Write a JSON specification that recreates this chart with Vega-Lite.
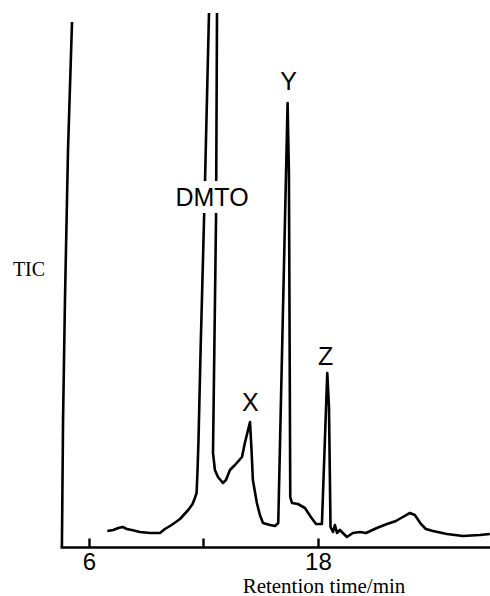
{
  "$schema": "https://vega.github.io/schema/vega-lite/v6.json",
  "width": 430,
  "height": 534,
  "autosize": "none",
  "padding": {"left": 60, "top": 13, "right": 0, "bottom": 49},
  "background": "white",
  "config": {"view": {"stroke": null}},
  "datasets": {
    "trace": [
      {"series": "solvent", "i": 1, "t": 5.11, "v": 525},
      {"series": "solvent", "i": 2, "t": 4.90, "v": 397},
      {"series": "solvent", "i": 3, "t": 4.74, "v": 247},
      {"series": "solvent", "i": 4, "t": 4.64, "v": 127},
      {"series": "solvent", "i": 5, "t": 4.58, "v": 0},
      {"series": "main", "i": 1, "t": 6.96, "v": 16},
      {"series": "main", "i": 2, "t": 7.27, "v": 17},
      {"series": "main", "i": 3, "t": 7.54, "v": 19},
      {"series": "main", "i": 4, "t": 7.77, "v": 20},
      {"series": "main", "i": 5, "t": 7.98, "v": 18},
      {"series": "main", "i": 6, "t": 8.24, "v": 17},
      {"series": "main", "i": 7, "t": 8.67, "v": 15},
      {"series": "main", "i": 8, "t": 9.20, "v": 14},
      {"series": "main", "i": 9, "t": 9.72, "v": 14},
      {"series": "main", "i": 10, "t": 9.98, "v": 18},
      {"series": "main", "i": 11, "t": 10.33, "v": 22},
      {"series": "main", "i": 12, "t": 10.77, "v": 28},
      {"series": "main", "i": 13, "t": 11.20, "v": 37},
      {"series": "main", "i": 14, "t": 11.43, "v": 43},
      {"series": "main", "i": 15, "t": 11.55, "v": 49},
      {"series": "main", "i": 16, "t": 11.64, "v": 54},
      {"series": "main", "i": 17, "t": 11.69, "v": 77},
      {"series": "main", "i": 18, "t": 11.74, "v": 107},
      {"series": "main", "i": 19, "t": 11.85, "v": 197},
      {"series": "main", "i": 20, "t": 12.08, "v": 364},
      {"series": "main", "i": 21, "t": 12.29, "v": 534},
      {"series": "main", "i": 22, "t": 12.30, "v": 557},
      {"series": "main", "i": 23, "t": 12.73, "v": 557},
      {"series": "main", "i": 24, "t": 12.71, "v": 533},
      {"series": "main", "i": 25, "t": 12.66, "v": 330},
      {"series": "main", "i": 26, "t": 12.50, "v": 94},
      {"series": "main", "i": 27, "t": 12.60, "v": 77},
      {"series": "main", "i": 28, "t": 12.76, "v": 70},
      {"series": "main", "i": 29, "t": 13.02, "v": 64},
      {"series": "main", "i": 30, "t": 13.18, "v": 67},
      {"series": "main", "i": 31, "t": 13.39, "v": 77},
      {"series": "main", "i": 32, "t": 13.65, "v": 82},
      {"series": "main", "i": 33, "t": 14.02, "v": 90},
      {"series": "main", "i": 34, "t": 14.17, "v": 104},
      {"series": "main", "i": 35, "t": 14.44, "v": 125},
      {"series": "main", "i": 36, "t": 14.52, "v": 97},
      {"series": "main", "i": 37, "t": 14.59, "v": 67},
      {"series": "main", "i": 38, "t": 14.80, "v": 44},
      {"series": "main", "i": 39, "t": 14.96, "v": 32},
      {"series": "main", "i": 40, "t": 15.12, "v": 24},
      {"series": "main", "i": 41, "t": 15.49, "v": 22},
      {"series": "main", "i": 42, "t": 15.75, "v": 21},
      {"series": "main", "i": 43, "t": 15.92, "v": 24},
      {"series": "main", "i": 44, "t": 16.41, "v": 444},
      {"series": "main", "i": 45, "t": 16.48, "v": 374},
      {"series": "main", "i": 46, "t": 16.55, "v": 50},
      {"series": "main", "i": 47, "t": 16.64, "v": 44},
      {"series": "main", "i": 48, "t": 16.95, "v": 43},
      {"series": "main", "i": 49, "t": 17.32, "v": 39},
      {"series": "main", "i": 50, "t": 17.63, "v": 30},
      {"series": "main", "i": 51, "t": 17.90, "v": 23},
      {"series": "main", "i": 52, "t": 18.21, "v": 23},
      {"series": "main", "i": 53, "t": 18.49, "v": 174},
      {"series": "main", "i": 54, "t": 18.58, "v": 140},
      {"series": "main", "i": 55, "t": 18.66, "v": 20},
      {"series": "main", "i": 56, "t": 18.79, "v": 15},
      {"series": "main", "i": 57, "t": 18.89, "v": 22},
      {"series": "main", "i": 58, "t": 19.00, "v": 14},
      {"series": "main", "i": 59, "t": 19.15, "v": 17},
      {"series": "main", "i": 60, "t": 19.52, "v": 10},
      {"series": "main", "i": 61, "t": 19.83, "v": 14},
      {"series": "main", "i": 62, "t": 20.20, "v": 15},
      {"series": "main", "i": 63, "t": 20.52, "v": 14},
      {"series": "main", "i": 64, "t": 21.09, "v": 19},
      {"series": "main", "i": 65, "t": 21.62, "v": 23},
      {"series": "main", "i": 66, "t": 22.09, "v": 26},
      {"series": "main", "i": 67, "t": 22.45, "v": 30},
      {"series": "main", "i": 68, "t": 22.82, "v": 34},
      {"series": "main", "i": 69, "t": 23.08, "v": 32},
      {"series": "main", "i": 70, "t": 23.40, "v": 23},
      {"series": "main", "i": 71, "t": 23.66, "v": 18},
      {"series": "main", "i": 72, "t": 24.03, "v": 16},
      {"series": "main", "i": 73, "t": 24.76, "v": 13},
      {"series": "main", "i": 74, "t": 25.60, "v": 11},
      {"series": "main", "i": 75, "t": 26.49, "v": 12},
      {"series": "main", "i": 76, "t": 27.01, "v": 13}
    ],
    "labels": [
      {"label": "DMTO", "t": 12.45, "v": 349},
      {"label": "X", "t": 14.46, "v": 144},
      {"label": "Y", "t": 16.46, "v": 465},
      {"label": "Z", "t": 18.40, "v": 190}
    ]
  },
  "layer": [
    {
      "data": {"name": "trace"},
      "mark": {"type": "line", "stroke": "black", "strokeWidth": 2.6, "clip": true, "strokeJoin": "round"},
      "encoding": {
        "x": {
          "field": "t", "type": "quantitative",
          "scale": {"domain": [4.48, 27.02], "nice": false, "zero": false},
          "axis": {
            "values": [6, 12, 18],
            "labelExpr": "datum.value == 12 ? '' : datum.label",
            "grid": false,
            "tickSize": -9, "tickWidth": 2.4, "tickColor": "black",
            "domainColor": "black", "domainWidth": 2.4,
            "labelFont": "Liberation Sans", "labelFontSize": 24, "labelColor": "black",
            "labelPadding": 12, "labelBaseline": "top",
            "title": "Retention time/min",
            "titleFont": "Liberation Serif", "titleFontSize": 21, "titleFontWeight": "normal", "titleColor": "black",
            "titleX": 263.5, "titleY": 39, "titleAlign": "center", "titleBaseline": "middle"
          }
        },
        "y": {
          "field": "v", "type": "quantitative",
          "scale": {"domain": [0, 534], "nice": false, "zero": false},
          "axis": {
            "domain": false, "ticks": false, "labels": false, "grid": false,
            "title": "TIC", "titleAngle": 0,
            "titleFont": "Liberation Serif", "titleFontSize": 20, "titleFontWeight": "normal", "titleColor": "black",
            "titleX": -31.5, "titleY": 256, "titleAlign": "center", "titleBaseline": "middle"
          }
        },
        "detail": {"field": "series"},
        "order": {"field": "i"}
      }
    },
    {
      "data": {"name": "labels"},
      "transform": [{"filter": "datum.label == 'DMTO'"}],
      "mark": {"type": "text", "font": "Liberation Sans", "fontSize": 25, "align": "center", "baseline": "middle", "stroke": "white", "strokeWidth": 14, "fill": "white"},
      "encoding": {
        "x": {"field": "t", "type": "quantitative"},
        "y": {"field": "v", "type": "quantitative"},
        "text": {"field": "label"}
      }
    },
    {
      "data": {"name": "labels"},
      "mark": {"type": "text", "font": "Liberation Sans", "fontSize": 25, "align": "center", "baseline": "middle", "fill": "black"},
      "encoding": {
        "x": {"field": "t", "type": "quantitative"},
        "y": {"field": "v", "type": "quantitative"},
        "text": {"field": "label"}
      }
    }
  ]
}
